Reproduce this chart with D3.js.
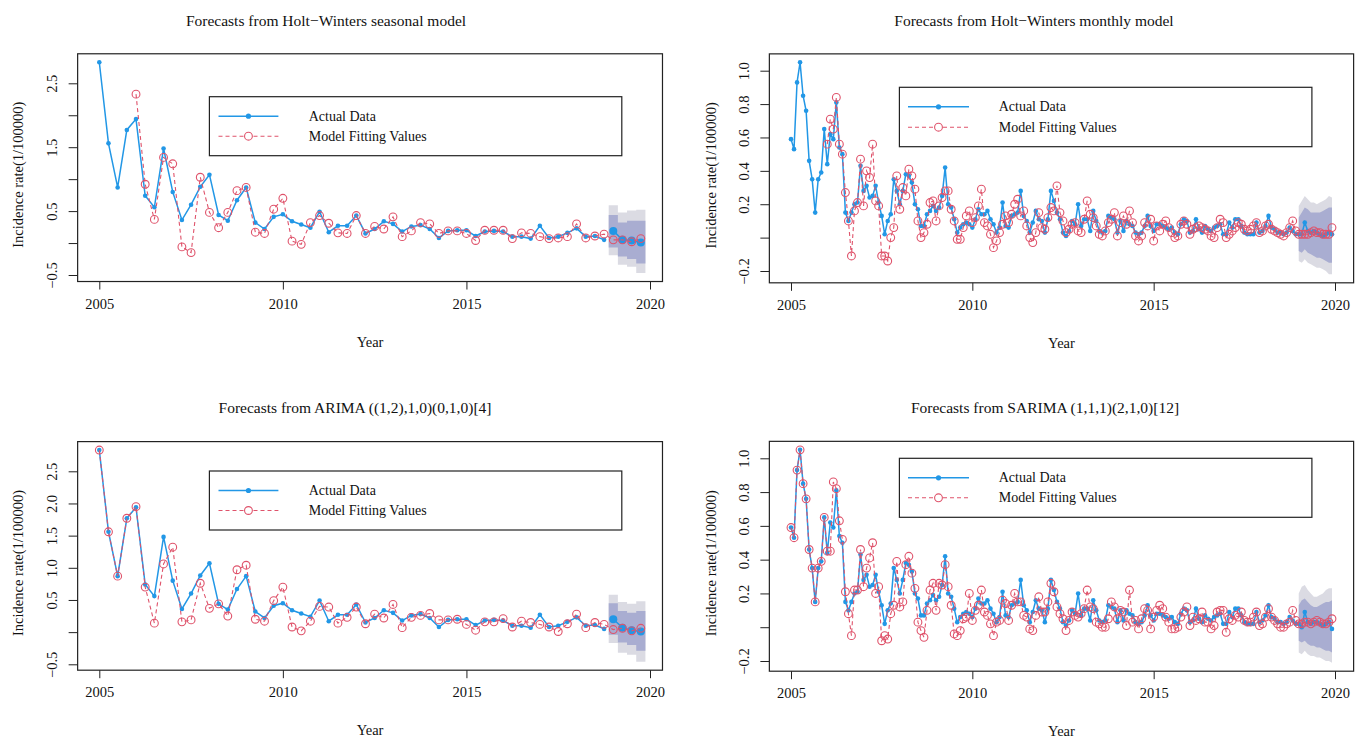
<!DOCTYPE html>
<html>
<head>
<meta charset="utf-8">
<script src="https://cdn.jsdelivr.net/npm/d3@7"></script>
<style>
  body { margin: 0; background: #fff; }
  svg { font-family: "Liberation Serif", "Times New Roman", serif; }
</style>
</head>
<body>
<svg id="chart" width="1363" height="738"></svg>
<script>
//~~~~~~~~~~~~~~~~~~DATA

// quarterly incidence, 2005 Q1 .. 2018 Q4
const quarterlyActual = [
  2.83, 1.56, 0.87, 1.77,  1.94, 0.74, 0.56, 1.48,  0.80, 0.36, 0.60, 0.88,
  1.07, 0.44, 0.35, 0.67,  0.87, 0.32, 0.22, 0.41,  0.45, 0.34, 0.29, 0.24,
  0.49, 0.17, 0.27, 0.27,  0.43, 0.15, 0.22, 0.34,  0.30, 0.18, 0.26, 0.28,
  0.22, 0.08, 0.19, 0.20,  0.20, 0.11, 0.18, 0.19,  0.18, 0.10, 0.10, 0.07,
  0.27, 0.08, 0.10, 0.16,  0.23, 0.10, 0.11, 0.05
];

// Holt-Winters seasonal: fitted 2006 Q1 .. 2019 Q4
const hwSeasonalFitted = [
  2.33, 0.92, 0.37, 1.34,  1.24, -0.06, -0.15, 1.03,  0.48, 0.24, 0.48, 0.82,
  0.87, 0.17, 0.15, 0.53,  0.70, 0.03, -0.02, 0.32,  0.43, 0.31, 0.16, 0.15,
  0.43, 0.15, 0.26, 0.22,  0.41, 0.10, 0.19, 0.32,  0.30, 0.15, 0.19, 0.19,
  0.15, 0.04, 0.20, 0.20,  0.20, 0.07, 0.16, 0.15,  0.10, 0.07, 0.08, 0.10,
  0.30, 0.08, 0.11, 0.14,  0.05, 0.05, 0.02, 0.07
];
const hwSeasonalMean = [0.19, 0.05, 0.04, 0.01];
const hwSeasonalHi95 = [0.59, 0.48, 0.51, 0.52];
const hwSeasonalLo95 = [-0.19, -0.34, -0.37, -0.47];
const hwSeasonalHi80 = [0.44, 0.32, 0.35, 0.35];
const hwSeasonalLo80 = [-0.07, -0.21, -0.25, -0.32];

// ARIMA ((1,2),1,0)(0,1,0)[4]: fitted 2005 Q1 .. 2019 Q4
const arimaFitted = [
  2.83, 1.56, 0.87, 1.77,  1.95, 0.70, 0.14, 1.06,  1.32, 0.16, 0.19, 0.76,
  0.37, 0.44, 0.25, 0.97,  1.04, 0.20, 0.17, 0.49,  0.70, 0.08, 0.02, 0.17,
  0.40, 0.39, 0.14, 0.23,  0.39, 0.13, 0.28, 0.22,  0.43, 0.07, 0.23, 0.26,
  0.29, 0.19, 0.19, 0.20,  0.12, 0.03, 0.16, 0.16,  0.21, 0.08, 0.17, 0.15,
  0.12, 0.08, 0.01, 0.13,  0.28, 0.07, 0.15, 0.12,  0.04, 0.06, 0.02, 0.06
];
const arimaMean = [0.20, 0.07, 0.03, 0.01];
const arimaHi95 = [0.58, 0.47, 0.44, 0.48];
const arimaLo95 = [-0.17, -0.32, -0.35, -0.46];
const arimaHi80 = [0.45, 0.33, 0.30, 0.33];
const arimaLo80 = [-0.04, -0.16, -0.20, -0.29];

// monthly incidence, Jan 2005 .. Dec 2018
const monthlyActual = [
  0.59, 0.53, 0.93, 1.05, 0.85, 0.76, 0.46, 0.35, 0.15, 0.35, 0.39, 0.65,
  0.44, 0.62, 0.59, 0.81, 0.54, 0.50, 0.15, 0.10, 0.15, 0.20, 0.21, 0.43,
  0.28, 0.31, 0.24, 0.25, 0.31, 0.21, 0.13, 0.02, 0.10, 0.14, 0.35, 0.28,
  0.20, 0.28, 0.38, 0.37, 0.33, 0.20, 0.17, 0.07, 0.07, 0.14, 0.16, 0.19,
  0.16, 0.18, 0.25, 0.42, 0.20, 0.18, 0.11, 0.03, 0.06, 0.08, 0.09, 0.08,
  0.06, 0.11, 0.17, 0.14, 0.14, 0.16, 0.11, 0.08, 0.03, 0.06, 0.21, 0.07,
  0.06, 0.13, 0.14, 0.15, 0.28, 0.13, 0.10, 0.03, 0.09, 0.16, 0.11, 0.10,
  0.03, 0.11, 0.28, 0.22, 0.15, 0.11, 0.03, 0.01, 0.04, 0.10, 0.08, 0.20,
  0.07, 0.11, 0.11, 0.04, 0.16, 0.10, 0.04, 0.03, 0.04, 0.13, 0.12, 0.11,
  0.03, 0.10, 0.04, 0.10, 0.08, 0.07, 0.03, 0.02, 0.03, 0.07, 0.13, 0.07,
  0.04, 0.08, 0.08, 0.07, 0.06, 0.05, 0.06, 0.03, 0.02, 0.08, 0.11, 0.10,
  0.03, 0.04, 0.11, 0.05, 0.03, 0.07, 0.05, 0.04, 0.06, 0.07, 0.08, 0.02,
  0.02, 0.09, 0.06, 0.11, 0.11, 0.07, 0.03, 0.02, 0.02, 0.02, 0.09, 0.03,
  0.04, 0.07, 0.13, 0.06, 0.05, 0.03, 0.03, 0.02, 0.03, 0.06, 0.04, 0.02
];

// Holt-Winters monthly: fitted Jan 2006 .. Dec 2019
const hwMonthlyFitted = [
  0.56, 0.71, 0.65, 0.84, 0.56, 0.50, 0.27, 0.10, -0.11, 0.16, 0.21, 0.47,
  0.19, 0.40, 0.36, 0.56, 0.22, 0.19, -0.11, -0.11, -0.14, 0.00, 0.06, 0.37,
  0.17, 0.30, 0.25, 0.41, 0.37, 0.29, 0.10, 0.00, 0.03, 0.08, 0.21, 0.22,
  0.10, 0.19, 0.24, 0.28, 0.28, 0.17, 0.10, -0.01, -0.01, 0.06, 0.13, 0.16,
  0.09, 0.12, 0.19, 0.29, 0.09, 0.07, 0.02, -0.06, -0.02, 0.03, 0.08, 0.13,
  0.09, 0.14, 0.20, 0.23, 0.13, 0.16, 0.07, 0.00, -0.03, 0.03, 0.15, 0.06,
  0.05, 0.12, 0.18, 0.16, 0.31, 0.15, 0.10, 0.03, 0.05, 0.08, 0.09, 0.04,
  0.03, 0.11, 0.22, 0.14, 0.12, 0.07, 0.02, 0.01, 0.04, 0.09, 0.11, 0.15,
  0.01, 0.09, 0.13, 0.08, 0.16, 0.09, 0.01, -0.02, 0.01, 0.09, 0.07, 0.11,
  -0.02, 0.07, 0.04, 0.08, 0.10, 0.06, 0.03, 0.00, 0.01, 0.08, 0.10, 0.08,
  0.02, 0.05, 0.06, 0.07, 0.06, 0.05, 0.04, 0.01, 0.00, 0.06, 0.11, 0.09,
  0.00, 0.02, 0.04, 0.06, 0.09, 0.08, 0.05, 0.04, 0.05, 0.07, 0.09, 0.03,
  0.04, 0.07, 0.08, 0.05, 0.04, 0.03, 0.02, 0.01, 0.03, 0.06, 0.10, 0.04,
  0.02, 0.02, 0.02, 0.02, 0.03, 0.04, 0.03, 0.03, 0.02, 0.02, 0.02, 0.06
];
const hwMonthlyMean = [0.02, 0.02, 0.09, 0.04, 0.03, 0.04, 0.03, 0.02, 0.01, 0.02, 0.03, 0.02];
const hwMonthlyHi95 = [0.19, 0.22, 0.25, 0.23, 0.21, 0.21, 0.20, 0.21, 0.22, 0.23, 0.25, 0.24];
const hwMonthlyLo95 = [-0.14, -0.15, -0.13, -0.15, -0.16, -0.17, -0.18, -0.18, -0.19, -0.20, -0.22, -0.22];
const hwMonthlyHi80 = [0.12, 0.15, 0.18, 0.17, 0.15, 0.15, 0.15, 0.15, 0.16, 0.17, 0.18, 0.18];
const hwMonthlyLo80 = [-0.08, -0.09, -0.07, -0.09, -0.10, -0.11, -0.12, -0.12, -0.13, -0.14, -0.15, -0.15];

// SARIMA (1,1,1)(2,1,0)[12]: fitted Jan 2005 .. Dec 2019
const sarimaFitted = [
  0.59, 0.53, 0.93, 1.05, 0.85, 0.76, 0.46, 0.35, 0.15, 0.35, 0.39, 0.65,
  0.45, 0.45, 0.86, 0.82, 0.63, 0.52, 0.21, 0.08, -0.05, 0.22, 0.22, 0.46,
  0.24, 0.35, 0.41, 0.50, 0.20, 0.24, -0.08, -0.05, -0.07, 0.08, 0.13, 0.39,
  0.12, 0.15, 0.37, 0.42, 0.32, 0.23, 0.03, -0.02, -0.06, 0.10, 0.22, 0.26,
  0.10, 0.26, 0.25, 0.37, 0.24, 0.13, -0.04, -0.05, -0.02, 0.05, 0.06, 0.20,
  0.04, 0.10, 0.13, 0.22, 0.09, 0.07, 0.02, -0.05, 0.03, 0.04, 0.16, 0.14,
  0.04, 0.13, 0.20, 0.15, 0.15, 0.07, 0.06, -0.01, -0.02, 0.07, 0.18, 0.09,
  0.09, 0.15, 0.26, 0.21, 0.12, 0.08, 0.05, -0.02, 0.04, 0.09, 0.07, 0.06,
  0.08, 0.11, 0.22, 0.12, 0.11, 0.03, 0.02, 0.00, 0.00, 0.05, 0.15, 0.12,
  0.05, 0.10, 0.09, 0.01, 0.22, 0.03, 0.04, -0.01, 0.05, 0.11, 0.10, -0.01,
  0.06, 0.10, 0.13, 0.11, 0.06, 0.03, -0.01, -0.01, 0.00, 0.06, 0.09, 0.12,
  0.01, 0.06, 0.04, 0.05, 0.09, 0.03, 0.03, -0.01, 0.01, 0.09, 0.10, 0.10,
  -0.03, 0.05, 0.04, 0.07, 0.06, 0.09, 0.04, 0.03, 0.03, 0.06, 0.09, 0.01,
  0.02, 0.06, 0.11, 0.06, 0.04, 0.02, 0.00, 0.00, 0.02, 0.03, 0.10, 0.04,
  0.02, 0.02, 0.03, 0.03, 0.02, 0.03, 0.04, 0.03, 0.02, 0.02, 0.03, 0.05
];
const sarimaMean = [0.02, 0.00, 0.09, 0.03, 0.02, 0.03, 0.03, 0.02, 0.01, 0.02, 0.03, -0.01];
const sarimaHi95 = [0.20, 0.24, 0.25, 0.22, 0.20, 0.18, 0.18, 0.19, 0.20, 0.22, 0.23, 0.23];
const sarimaLo95 = [-0.15, -0.16, -0.14, -0.16, -0.17, -0.17, -0.18, -0.18, -0.19, -0.20, -0.20, -0.21];
const sarimaHi80 = [0.13, 0.16, 0.17, 0.15, 0.13, 0.12, 0.12, 0.13, 0.14, 0.15, 0.15, 0.16];
const sarimaLo80 = [-0.08, -0.09, -0.08, -0.10, -0.11, -0.11, -0.12, -0.12, -0.13, -0.14, -0.14, -0.15];

const xTickYears = [2005, 2010, 2015, 2020];
const quarterlyTicks = [-0.5, 0, 0.5, 1, 1.5, 2, 2.5];
const monthlyTicks = [-0.2, 0, 0.2, 0.4, 0.6, 0.8, 1.0];
const legendLabels = ['Actual Data', 'Model Fitting Values'];

//~~~~~~~~~~~~~~~~~~STYLE
const blue = '#2297E6';
const red = '#DF536B';
const shade80 = '#A9ADD1';
const shade95 = '#DBDBE3';
const tickFont = 14.5;

const svg = d3.select('#chart');
const fmt = d3.format('.1f');

//~~~~~~~~~~~~~~~~~~ONE PANEL
function drawPanel(p) {
  const g = svg.append('g');

  // scales are pinned on the tick positions of the reference
  const x = d3.scaleLinear().domain([2005, 2020]).range(p.xPx);
  const y = d3.scaleLinear().domain(p.yVal).range(p.yPx);

  const step = 1 / p.freq;
  const nAct = p.actual.length;
  const tAct = d3.range(nAct).map(i => 2005 + i * step);
  const tFit = d3.range(p.fitted.length).map(i => p.fitStart + i * step);
  const tFc = d3.range(p.mean.length).map(i => 2005 + (nAct + i) * step);

  // plot region, R style: data range plus 4 %
  const lo = d3.min([...p.actual, ...p.fitted, ...p.mean, ...p.lo95]);
  const hi = d3.max([...p.actual, ...p.fitted, ...p.mean, ...p.hi95]);
  const xEnd = tFc[tFc.length - 1];
  const padX = (xEnd - 2005) * 0.04;
  const padY = (hi - lo) * 0.04;
  const left = x(2005 - padX), right = x(xEnd + padX);
  const top = y(hi + padY), bottom = y(lo - padY);

  // fan of prediction intervals
  let band;
  if (p.freq === 4) {
    const n = p.mean.length;
    const at = (arr, i) => arr[Math.min(i, n - 1)];
    band = (loArr, hiArr) => d3.area()
      .curve(d3.curveStepAfter)
      .x(i => x(i < n ? tFc[i] - step / 2 : tFc[n - 1] + step / 2))
      .y0(i => y(at(loArr, i)))
      .y1(i => y(at(hiArr, i)))(d3.range(n + 1));
  } else {
    band = (loArr, hiArr) => d3.area()
      .x(i => x(tFc[i]))
      .y0(i => y(loArr[i]))
      .y1(i => y(hiArr[i]))(d3.range(p.mean.length));
  }
  g.append('path').attr('d', band(p.lo95, p.hi95)).attr('fill', shade95);
  g.append('path').attr('d', band(p.lo80, p.hi80)).attr('fill', shade80);

  // actual data
  const line = d3.line().x(d => x(d[0])).y(d => y(d[1]));
  const actPts = tAct.map((t, i) => [t, p.actual[i]]);
  const fcPts = tFc.map((t, i) => [t, p.mean[i]]);
  if (p.freq === 12) {
    g.append('path').attr('d', line(actPts.concat(fcPts)))
      .attr('fill', 'none').attr('stroke', blue).attr('stroke-width', 1.5);
  } else {
    g.append('path').attr('d', line(actPts))
      .attr('fill', 'none').attr('stroke', blue).attr('stroke-width', 1.5);
    g.append('path').attr('d', line(fcPts))
      .attr('fill', 'none').attr('stroke', blue).attr('stroke-width', 1.5);
  }
  g.selectAll('.act').data(actPts).enter().append('circle')
    .attr('cx', d => x(d[0])).attr('cy', d => y(d[1])).attr('r', 2.3).attr('fill', blue);
  g.selectAll('.fc').data(fcPts).enter().append('circle')
    .attr('cx', d => x(d[0])).attr('cy', d => y(d[1]))
    .attr('r', p.freq === 4 ? 4 : 2.3).attr('fill', blue);

  // model fitting values
  const fitPts = tFit.map((t, i) => [t, p.fitted[i]]);
  g.append('path').attr('d', line(fitPts))
    .attr('fill', 'none').attr('stroke', red).attr('stroke-width', 1.1)
    .attr('stroke-dasharray', '4,3');
  g.selectAll('.fit').data(fitPts).enter().append('circle')
    .attr('cx', d => x(d[0])).attr('cy', d => y(d[1])).attr('r', 3.9)
    .attr('fill', 'none').attr('stroke', red).attr('stroke-width', 1.1);

  // frame
  g.append('rect')
    .attr('x', left).attr('y', top)
    .attr('width', right - left).attr('height', bottom - top)
    .attr('fill', 'none').attr('stroke', '#222').attr('stroke-width', 1.2);

  // x axis
  const xAxis = g.append('g')
    .attr('transform', 'translate(0,' + bottom + ')')
    .call(d3.axisBottom(x).tickValues(xTickYears).tickSize(8).tickPadding(9)
      .tickFormat(d3.format('d')));
  xAxis.select('.domain').remove();
  xAxis.selectAll('line').attr('stroke', '#222');
  xAxis.selectAll('text').attr('font-size', tickFont).attr('fill', '#111')
    .attr('font-family', '"Liberation Serif", serif');

  // y axis, labels turned like R's las = 0
  const yAxis = g.append('g')
    .attr('transform', 'translate(' + left + ',0)')
    .call(d3.axisLeft(y).tickValues(p.yTicks).tickSize(9)
      .tickFormat(d => p.yLabels.indexOf(d) >= 0 ? fmt(d) : ''));
  yAxis.select('.domain').remove();
  yAxis.selectAll('line').attr('stroke', '#222');
  yAxis.selectAll('text')
    .attr('x', null).attr('dy', null)
    .attr('text-anchor', 'middle').attr('dominant-baseline', 'central')
    .attr('transform', 'translate(' + (-p.yLabelOff) + ',0) rotate(-90)')
    .attr('font-size', tickFont).attr('fill', '#111')
    .attr('font-family', '"Liberation Serif", serif');

  // titles
  g.append('text').attr('x', p.titleX).attr('y', p.titleY)
    .attr('text-anchor', 'middle').attr('dominant-baseline', 'central')
    .attr('font-size', 15.5).attr('fill', '#111').text(p.title);
  g.append('text').attr('x', (left + right) / 2).attr('y', bottom + 60)
    .attr('text-anchor', 'middle').attr('dominant-baseline', 'central')
    .attr('font-size', 14.5).attr('fill', '#111').text('Year');
  const yc = (top + bottom) / 2 + 7;
  g.append('text')
    .attr('transform', 'translate(' + (left - p.yTitleOff) + ',' + yc + ') rotate(-90)')
    .attr('text-anchor', 'middle').attr('dominant-baseline', 'central')
    .attr('font-size', 14.5).attr('fill', '#111').text('Incidence rate(1/100000)');

  // legend
  const L = p.legend;
  g.append('rect').attr('x', L.x0).attr('y', L.y0)
    .attr('width', L.x1 - L.x0).attr('height', L.y1 - L.y0)
    .attr('fill', '#fff').attr('stroke', '#222').attr('stroke-width', 1.2);
  const rows = [L.y0 + 19.5, L.y1 - 19.5];
  const mid = (L.s0 + L.s1) / 2;
  g.append('line').attr('x1', L.s0).attr('x2', L.s1).attr('y1', rows[0]).attr('y2', rows[0])
    .attr('stroke', blue).attr('stroke-width', 1.5);
  g.append('circle').attr('cx', mid).attr('cy', rows[0]).attr('r', 2.6).attr('fill', blue);
  g.append('line').attr('x1', L.s0).attr('x2', L.s1).attr('y1', rows[1]).attr('y2', rows[1])
    .attr('stroke', red).attr('stroke-width', 1.1).attr('stroke-dasharray', '4,3');
  g.append('circle').attr('cx', mid).attr('cy', rows[1]).attr('r', 3.9)
    .attr('fill', '#fff').attr('stroke', red).attr('stroke-width', 1.1);
  g.selectAll('.leg').data(legendLabels).enter().append('text')
    .attr('x', L.tx).attr('y', (d, i) => rows[i])
    .attr('dominant-baseline', 'central')
    .attr('font-size', 14).attr('fill', '#111').text(d => d);
}

//~~~~~~~~~~~~~~~~~~THE FOUR PANELS
drawPanel({
  title: 'Forecasts from Holt\u2212Winters seasonal model', titleX: 326, titleY: 20,
  freq: 4, actual: quarterlyActual, fitted: hwSeasonalFitted, fitStart: 2006,
  mean: hwSeasonalMean, hi95: hwSeasonalHi95, lo95: hwSeasonalLo95,
  hi80: hwSeasonalHi80, lo80: hwSeasonalLo80,
  xPx: [99.3, 650], yVal: [-0.5, 2.5], yPx: [275, 83.3],
  yTicks: quarterlyTicks, yLabels: [-0.5, 0.5, 1.5, 2.5],
  yLabelOff: 26, yTitleOff: 60,
  legend: { x0: 209.4, x1: 621.8, y0: 96.7, y1: 155.7, s0: 218.5, s1: 278.4, tx: 308.7 }
});

drawPanel({
  title: 'Forecasts from Holt\u2212Winters monthly model', titleX: 1034, titleY: 20,
  freq: 12, actual: monthlyActual, fitted: hwMonthlyFitted, fitStart: 2006,
  mean: hwMonthlyMean, hi95: hwMonthlyHi95, lo95: hwMonthlyLo95,
  hi80: hwMonthlyHi80, lo80: hwMonthlyLo80,
  xPx: [791, 1335], yVal: [-0.2, 1.0], yPx: [271, 70.7],
  yTicks: monthlyTicks, yLabels: [-0.2, 0.2, 0.4, 0.6, 0.8, 1.0],
  yLabelOff: 25.3, yTitleOff: 58.6,
  legend: { x0: 899.4, x1: 1311.9, y0: 87.3, y1: 146.7, s0: 908, s1: 969, tx: 998.7 }
});

drawPanel({
  title: 'Forecasts from ARIMA ((1,2),1,0)(0,1,0)[4]', titleX: 355, titleY: 407,
  freq: 4, actual: quarterlyActual, fitted: arimaFitted, fitStart: 2005,
  mean: arimaMean, hi95: arimaHi95, lo95: arimaLo95,
  hi80: arimaHi80, lo80: arimaLo80,
  xPx: [99.3, 650], yVal: [-0.5, 2.5], yPx: [664.3, 471.3],
  yTicks: quarterlyTicks, yLabels: [-0.5, 0.5, 1, 1.5, 2, 2.5],
  yLabelOff: 26, yTitleOff: 60,
  legend: { x0: 209.4, x1: 621.8, y0: 471, y1: 530, s0: 218.5, s1: 278.4, tx: 308.7 }
});

drawPanel({
  title: 'Forecasts from SARIMA (1,1,1)(2,1,0)[12]', titleX: 1045, titleY: 407,
  freq: 12, actual: monthlyActual, fitted: sarimaFitted, fitStart: 2005,
  mean: sarimaMean, hi95: sarimaHi95, lo95: sarimaLo95,
  hi80: sarimaHi80, lo80: sarimaLo80,
  xPx: [791, 1335], yVal: [-0.2, 1.0], yPx: [661, 458.3],
  yTicks: monthlyTicks, yLabels: [-0.2, 0.2, 0.4, 0.6, 0.8, 1.0],
  yLabelOff: 25.3, yTitleOff: 58.6,
  legend: { x0: 899.4, x1: 1311.9, y0: 458.3, y1: 517.3, s0: 908, s1: 969, tx: 998.7 }
});
</script>
</body>
</html>
